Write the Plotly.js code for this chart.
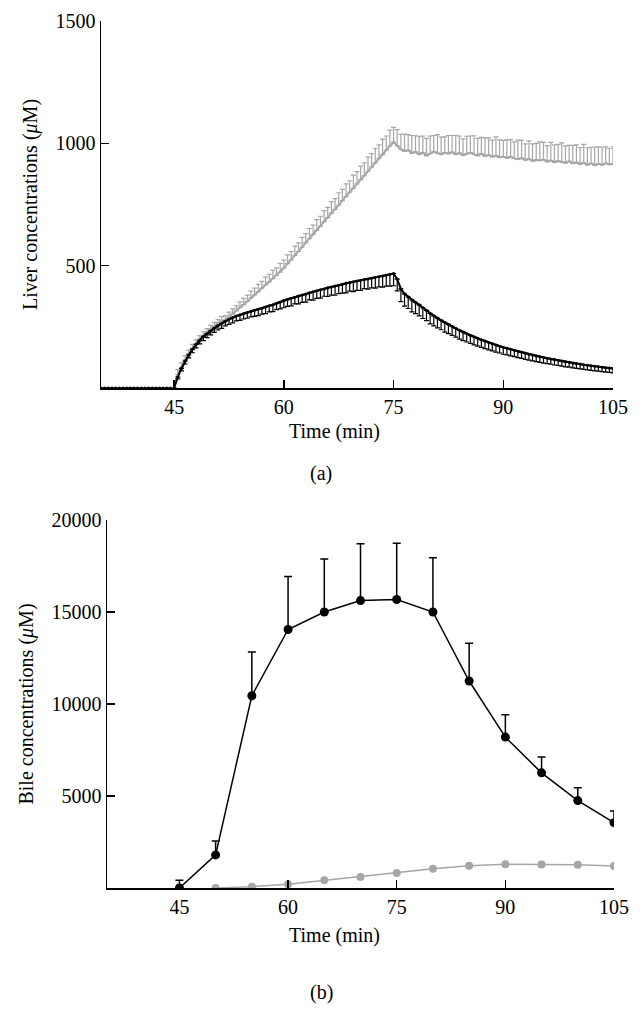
<!DOCTYPE html>
<html>
<head>
<meta charset="utf-8">
<script src="https://cdn.plot.ly/plotly-3.0.1.min.js"></script>
<style>html,body{margin:0;padding:0;background:#fff;}#chart{width:643px;height:1021px;}</style>
</head>
<body>
<div id="chart"></div>
<script>
// ---- Panel (a): liver concentrations ----
const baseTime = [35,35.5,36,36.5,37,37.5,38,38.5,39,39.5,40,40.5,41,41.5,42,42.5,43,43.5,44,44.5];
const baseValue = [0,0,0,0,0,0,0,0,0,0,0,0,0,0,0,0,0,0,0,0];
const liverTime = [45,45.5,46,46.5,47,47.5,48,48.5,49,49.5,50,50.5,51,51.5,52,52.5,53,53.5,54,54.5,
  55,55.5,56,56.5,57,57.5,58,58.5,59,59.5,60,60.5,61,61.5,62,62.5,63,63.5,64,64.5,
  65,65.5,66,66.5,67,67.5,68,68.5,69,69.5,70,70.5,71,71.5,72,72.5,73,73.5,74,74.5,
  75,75.5,76,76.5,77,77.5,78,78.5,79,79.5,80,80.5,81,81.5,82,82.5,83,83.5,84,84.5,
  85,85.5,86,86.5,87,87.5,88,88.5,89,89.5,90,90.5,91,91.5,92,92.5,93,93.5,94,94.5,
  95,95.5,96,96.5,97,97.5,98,98.5,99,99.5,100,100.5,101,101.5,102,102.5,103,103.5,104,104.5,105];
const liverBlack = [0,45,80,110,135,158,178,195,210,222,234,245,255,264,273,281,288,294,299,304,
  309,313,318,322,326,331,336,340,346,352,358,362,367,371,376,380,384,389,393,397,
  402,405,410,413,417,420,424,428,431,434,437,440,443,446,449,452,455,458,461,464,
  468,445,405,385,372,360,350,340,328,317,305,295,286,277,268,260,252,244,236,229,
  222,215,209,203,197,192,186,181,176,171,166,162,158,154,150,146,142,138,135,131,
  128,125,122,119,116,113,110,107,105,102,100,98,95,93,91,89,87,85,83,82,80];
const liverBlackErr = [0,8,10,12,12,14,14,15,16,16,17,18,18,20,19,21,22,20,23,22,
  24,22,25,26,24,27,25,28,26,29,30,28,31,27,32,30,33,29,34,31,
  35,30,36,33,38,34,36,39,35,40,38,41,37,42,40,44,42,46,45,48,
  50,48,52,50,47,49,46,45,44,42,43,41,40,39,40,38,37,36,36,35,
  34,33,33,32,31,31,30,29,29,28,28,27,27,26,26,25,25,24,24,23,
  23,23,22,22,22,21,21,21,20,20,20,20,19,19,19,19,18,18,18,18,18];
const liverGray = [0,55,85,115,140,163,183,200,215,228,240,252,263,274,278,290,302,315,328,341,
  354,368,381,394,408,421,434,447,460,474,490,508,524,542,558,576,594,610,628,644,
  662,680,696,714,730,748,766,782,800,816,834,852,868,886,904,920,938,955,972,990,
  1005,990,975,968,972,960,965,955,962,950,958,966,960,955,962,958,964,955,960,952,
  957,962,955,950,958,948,952,945,950,942,946,940,945,938,935,940,932,936,928,932,
  930,934,925,930,922,928,924,920,926,918,922,915,920,912,918,910,916,912,918,914,916];
const liverGrayErr = [0,20,18,16,15,15,14,14,15,15,16,16,17,18,18,20,21,22,24,25,
  26,28,27,30,28,32,30,34,31,35,33,36,34,38,35,40,37,42,38,44,
  40,45,42,48,44,50,46,52,47,54,50,55,52,58,54,60,56,62,58,64,
  60,66,62,70,64,72,66,74,68,70,72,66,76,70,64,74,68,78,70,66,
  72,68,76,70,66,74,70,68,76,72,66,74,70,68,78,72,66,74,70,68,
  76,70,66,74,72,68,78,70,66,74,72,68,76,70,66,74,70,72,68,66,70];

// ---- Panel (b): bile concentrations ----
const bileTimeBlack = [45,50,55,60,65,70,75,80,85,90,95,100,105];
const bileBlack = [0,1800,10450,14050,15000,15620,15680,15000,11250,8200,6260,4750,3550];
const bileBlackErr = [420,750,2380,2880,2880,3090,3050,2950,2050,1210,860,700,630];
const bileTimeGray = [50,55,60,65,70,75,80,85,90,95,100,105];
const bileGray = [0,70,200,420,600,820,1050,1210,1290,1280,1270,1200];

const xTicks = [45,60,75,90,105];
const liverTicks = [500,1000,1500];
const bileTicks = [5000,10000,15000,20000];

const GRAY = '#a6a6a6';
const FONT = {family: 'Liberation Serif, Times New Roman, serif', size: 20, color: '#000'};

const traces = [
  {x: baseTime, y: baseValue, xaxis: 'x', yaxis: 'y', mode: 'lines+markers',
   line: {color: '#000', width: 1.5}, marker: {color: '#000', size: 3}, showlegend: false, hoverinfo: 'skip'},
  {x: liverTime, y: liverGray, xaxis: 'x', yaxis: 'y', mode: 'lines',
   line: {color: GRAY, width: 2},
   error_y: {type: 'data', symmetric: false, array: liverGrayErr, arrayminus: liverGray.map(() => 0),
             color: GRAY, thickness: 1.2, width: 2.5}, showlegend: false},
  {x: liverTime, y: liverBlack, xaxis: 'x', yaxis: 'y', mode: 'lines+markers',
   line: {color: '#000', width: 2}, marker: {color: '#000', size: 3},
   error_y: {type: 'data', symmetric: false, array: liverBlack.map(() => 0), arrayminus: liverBlackErr,
             color: '#000', thickness: 1.2, width: 2.5}, showlegend: false},
  {x: bileTimeGray, y: bileGray, xaxis: 'x2', yaxis: 'y2', mode: 'lines+markers',
   line: {color: GRAY, width: 1.5}, marker: {color: GRAY, size: 8}, showlegend: false},
  {x: bileTimeBlack, y: bileBlack, xaxis: 'x2', yaxis: 'y2', mode: 'lines+markers',
   line: {color: '#000', width: 1.5}, marker: {color: '#000', size: 9},
   error_y: {type: 'data', symmetric: false, array: bileBlackErr, arrayminus: bileBlack.map(() => 0),
             color: '#000', thickness: 1.5, width: 4}, showlegend: false}
];

const axisCommon = {showline: true, linecolor: '#000', linewidth: 1.5, ticks: 'inside', ticklen: 8,
  tickwidth: 1.5, tickcolor: '#000', showgrid: false, zeroline: false, tickfont: FONT, fixedrange: true};

const layout = {
  width: 643, height: 1021,
  margin: {l: 0, r: 0, t: 0, b: 0},
  paper_bgcolor: '#fff', plot_bgcolor: '#fff',
  font: FONT,
  showlegend: false,
  xaxis: Object.assign({}, axisCommon, {domain: [101/643, 613/643], range: [35, 105], anchor: 'y',
    tickmode: 'array', tickvals: xTicks, ticktext: xTicks.map(String)}),
  yaxis: Object.assign({}, axisCommon, {domain: [1-388/1021, 1-21/1021], range: [0, 1500], anchor: 'x',
    tickmode: 'array', tickvals: liverTicks, ticktext: liverTicks.map(String),
    title: {text: 'Liver concentrations (<i>μ</i>M)', font: FONT, standoff: 12}}),
  xaxis2: Object.assign({}, axisCommon, {domain: [107/643, 614/643], range: [35, 105], anchor: 'y2',
    tickmode: 'array', tickvals: xTicks, ticktext: xTicks.map(String)}),
  yaxis2: Object.assign({}, axisCommon, {domain: [1-888/1021, 1-520/1021], range: [0, 20000], anchor: 'x2',
    tickmode: 'array', tickvals: bileTicks, ticktext: bileTicks.map(String),
    title: {text: 'Bile concentrations (<i>μ</i>M)', font: FONT, standoff: 12}}),
  annotations: [
    {text: 'Time (min)', xref: 'paper', yref: 'paper', x: 334/643, y: 1-432/1021, showarrow: false, font: FONT, xanchor: 'center', yanchor: 'middle'},
    {text: '(a)', xref: 'paper', yref: 'paper', x: 321/643, y: 1-474/1021, showarrow: false, font: FONT, xanchor: 'center', yanchor: 'middle'},
    {text: 'Time (min)', xref: 'paper', yref: 'paper', x: 334/643, y: 1-935/1021, showarrow: false, font: FONT, xanchor: 'center', yanchor: 'middle'},
    {text: '(b)', xref: 'paper', yref: 'paper', x: 321/643, y: 1-992/1021, showarrow: false, font: FONT, xanchor: 'center', yanchor: 'middle'}
  ]
};

Plotly.newPlot('chart', traces, layout, {displayModeBar: false, staticPlot: true});
</script>
</body>
</html>
